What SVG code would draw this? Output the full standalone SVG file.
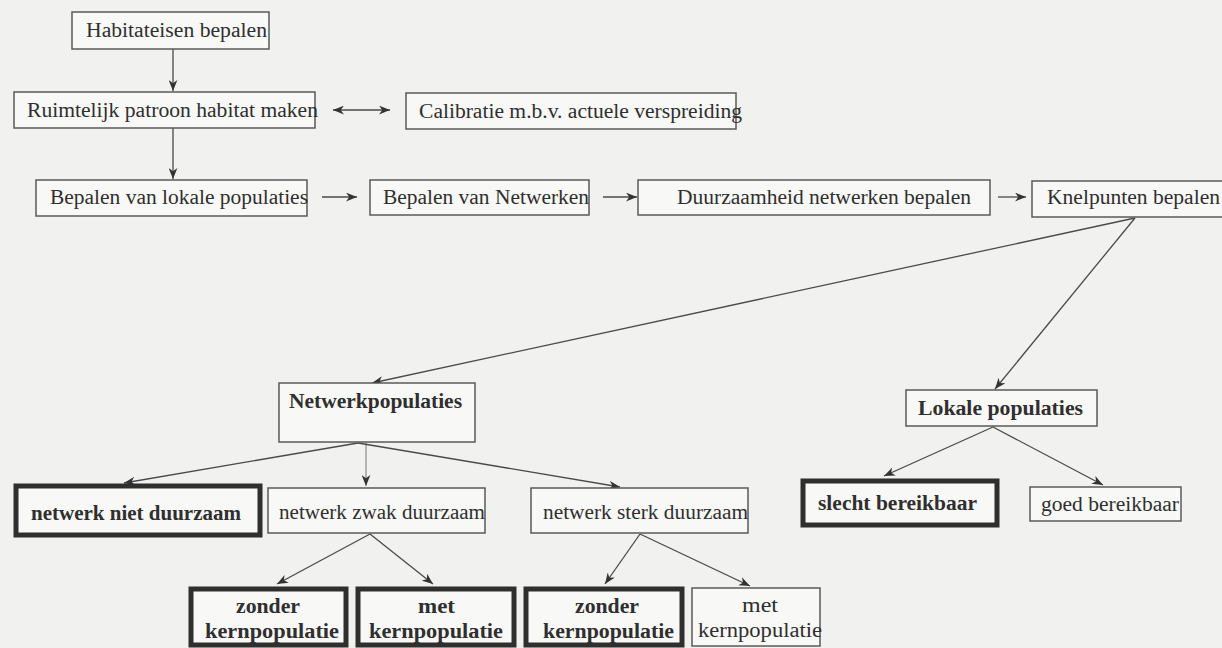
<svg xmlns="http://www.w3.org/2000/svg" width="1222" height="648" viewBox="0 0 1222 648">
<style>
.bg{fill:#f1f1ef}
.box{fill:#f8f8f6;stroke:#5a5a5a;stroke-width:1.5}
.thick{fill:#f8f8f6;stroke:#2f2f2f;stroke-width:5}
text{font-family:"Liberation Serif","Times New Roman",serif;font-size:20px;fill:#2f2f2f;lengthAdjust:spacingAndGlyphs}
.b{font-weight:bold}
.c{text-anchor:middle}
.ln{stroke:#4a4a4a;stroke-width:1.3;fill:none}
.lt{stroke:#777;stroke-width:1;fill:none}
</style>
<defs>
<marker id="ah" viewBox="0 0 10 8" refX="10" refY="4" markerWidth="11" markerHeight="9" orient="auto-start-reverse" markerUnits="userSpaceOnUse">
<path d="M0,0 L10,4 L0,8 L3,4 z" fill="#333"/>
</marker>
</defs>
<rect class="bg" x="0" y="0" width="1222" height="648"/>

<g id="connectors">
<line class="ln" x1="173" y1="49" x2="173" y2="91" marker-end="url(#ah)"/>
<line class="ln" x1="173" y1="128" x2="173" y2="179" marker-end="url(#ah)"/>
<line class="ln" x1="333" y1="110" x2="390" y2="110" marker-start="url(#ah)" marker-end="url(#ah)"/>
<line class="ln" x1="322" y1="197" x2="357" y2="197" marker-end="url(#ah)"/>
<line class="ln" x1="603" y1="197" x2="637" y2="197" marker-end="url(#ah)"/>
<line class="ln" x1="998" y1="197" x2="1026" y2="197" marker-end="url(#ah)"/>
<line class="ln" x1="1135" y1="218" x2="372" y2="383" marker-end="url(#ah)"/>
<line class="ln" x1="1135" y1="218" x2="995" y2="389" marker-end="url(#ah)"/>
<line class="ln" x1="358" y1="443" x2="124" y2="483" marker-end="url(#ah)"/>
<line class="lt" x1="366" y1="443" x2="366" y2="486" marker-end="url(#ah)"/>
<line class="ln" x1="358" y1="443" x2="620" y2="487" marker-end="url(#ah)"/>
<line class="ln" x1="370" y1="534" x2="277" y2="584" marker-end="url(#ah)"/>
<line class="ln" x1="370" y1="534" x2="433" y2="584" marker-end="url(#ah)"/>
<line class="ln" x1="640" y1="534" x2="605" y2="584" marker-end="url(#ah)"/>
<line class="ln" x1="640" y1="534" x2="750" y2="586" marker-end="url(#ah)"/>
<line class="ln" x1="993" y1="427" x2="884" y2="476" marker-end="url(#ah)"/>
<line class="ln" x1="993" y1="427" x2="1103" y2="485" marker-end="url(#ah)"/>
</g>

<g id="habitateisen">
<rect class="box" x="72" y="12" width="197" height="37"/>
<text x="86" y="37" textLength="181" lengthAdjust="spacingAndGlyphs">Habitateisen bepalen</text>
</g>
<g id="ruimtelijk">
<rect class="box" x="14" y="92" width="301" height="36"/>
<text x="27" y="117" textLength="291" lengthAdjust="spacingAndGlyphs">Ruimtelijk patroon habitat maken</text>
</g>
<g id="calibratie">
<rect class="box" x="406" y="93" width="330" height="36"/>
<text x="419" y="118" textLength="323" lengthAdjust="spacingAndGlyphs">Calibratie m.b.v. actuele verspreiding</text>
</g>
<g id="lokale-bepalen">
<rect class="box" x="36" y="180" width="271" height="36"/>
<text x="50" y="204" textLength="258" lengthAdjust="spacingAndGlyphs">Bepalen van lokale populaties</text>
</g>
<g id="netwerken-bepalen">
<rect class="box" x="370" y="180" width="219" height="35"/>
<text x="383" y="204" textLength="206" lengthAdjust="spacingAndGlyphs">Bepalen van Netwerken</text>
</g>
<g id="duurzaamheid">
<rect class="box" x="638" y="180" width="352" height="35"/>
<text x="677" y="204" textLength="294" lengthAdjust="spacingAndGlyphs">Duurzaamheid netwerken bepalen</text>
</g>
<g id="knelpunten">
<rect class="box" x="1032" y="181" width="195" height="36"/>
<text x="1047" y="204" textLength="173" lengthAdjust="spacingAndGlyphs">Knelpunten bepalen</text>
</g>
<g id="netwerkpopulaties">
<rect class="box" x="279" y="383" width="196" height="59"/>
<text class="b" x="289" y="408" textLength="173" lengthAdjust="spacingAndGlyphs">Netwerkpopulaties</text>
</g>
<g id="lokale-populaties">
<rect class="box" x="906" y="390" width="191" height="36"/>
<text class="b" x="918" y="415" textLength="165" lengthAdjust="spacingAndGlyphs">Lokale populaties</text>
</g>
<g id="niet-duurzaam">
<rect class="thick" x="16" y="486" width="244" height="49"/>
<text class="b" x="31" y="520" textLength="210" lengthAdjust="spacingAndGlyphs">netwerk niet duurzaam</text>
</g>
<g id="zwak-duurzaam">
<rect class="box" x="268" y="488" width="217" height="45"/>
<text x="279" y="519" textLength="206" lengthAdjust="spacingAndGlyphs">netwerk zwak duurzaam</text>
</g>
<g id="sterk-duurzaam">
<rect class="box" x="531" y="488" width="217" height="45"/>
<text x="543" y="519" textLength="205" lengthAdjust="spacingAndGlyphs">netwerk sterk duurzaam</text>
</g>
<g id="slecht-bereikbaar">
<rect class="thick" x="803" y="481" width="194" height="44"/>
<text class="b" x="818" y="510" textLength="159" lengthAdjust="spacingAndGlyphs">slecht bereikbaar</text>
</g>
<g id="goed-bereikbaar">
<rect class="box" x="1030" y="487" width="151" height="34"/>
<text x="1041" y="511" textLength="138" lengthAdjust="spacingAndGlyphs">goed bereikbaar</text>
</g>
<g id="zwak-zonder">
<rect class="thick" x="191" y="589" width="155" height="56"/>
<text class="b" x="236" y="613" textLength="64" lengthAdjust="spacingAndGlyphs">zonder</text>
<text class="b" x="205" y="638" textLength="134" lengthAdjust="spacingAndGlyphs">kernpopulatie</text>
</g>
<g id="zwak-met">
<rect class="thick" x="358" y="589" width="156" height="56"/>
<text class="b" x="418" y="613" textLength="37" lengthAdjust="spacingAndGlyphs">met</text>
<text class="b" x="369" y="638" textLength="134" lengthAdjust="spacingAndGlyphs">kernpopulatie</text>
</g>
<g id="sterk-zonder">
<rect class="thick" x="526" y="589" width="156" height="56"/>
<text class="b" x="575" y="613" textLength="64" lengthAdjust="spacingAndGlyphs">zonder</text>
<text class="b" x="543" y="638" textLength="131" lengthAdjust="spacingAndGlyphs">kernpopulatie</text>
</g>
<g id="sterk-met">
<rect class="box" x="692" y="588" width="128" height="58"/>
<text x="742" y="612" textLength="36" lengthAdjust="spacingAndGlyphs">met</text>
<text x="698" y="637" textLength="124" lengthAdjust="spacingAndGlyphs">kernpopulatie</text>
</g>
</svg>
